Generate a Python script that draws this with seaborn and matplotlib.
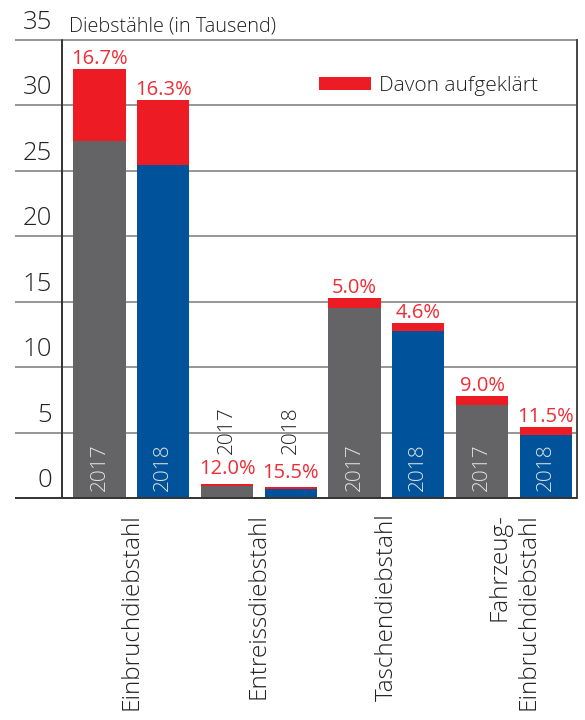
import matplotlib
matplotlib.use("Agg")
import matplotlib.pyplot as plt
from matplotlib.patches import Patch
import seaborn as sns
import pandas as pd

# ---- data ----
categories = ["Einbruchdiebstahl", "Entreissdiebstahl", "Taschendiebstahl",
              "Fahrzeug-\nEinbruchdiebstahl"]
years = ["2017", "2018"]
totals = [32.8, 30.4, 1.1, 0.85, 15.3, 13.4, 7.8, 5.45]          # Diebstähle (in Tausend)
cleared_pct = [16.7, 16.3, 12.0, 15.5, 5.0, 4.6, 9.0, 11.5]       # Davon aufgeklärt (%)
yticks = [0, 5, 10, 15, 20, 25, 30, 35]
title_text = "Diebstähle (in Tausend)"
legend_text = "Davon aufgeklärt"

RED = "#ED1C24"
RED_TXT = "#EE2D36"
GRAY = "#646466"
BLUE = "#00539B"
DARK = "#222222"

rows = []
for i, cat in enumerate(categories):
    for j, yr in enumerate(years):
        k = i * 2 + j
        tot = totals[k]
        rows.append({"key": f"{cat} {yr}", "cat": cat, "year": yr,
                     "total": tot, "pct": cleared_pct[k],
                     "open": tot * (1 - cleared_pct[k] / 100.0)})
df = pd.DataFrame(rows)

sns.set_theme(style="white")
plt.rcParams["font.family"] = ["Open Sans", "DejaVu Sans"]
plt.rcParams["font.weight"] = "light"

fig = plt.figure(figsize=(5.85, 7.2), dpi=100)
L, R, B, T = 62 / 585, 577 / 585, (720 - 498.3) / 720, (720 - 40) / 720
ax = fig.add_axes([L, B, R - L, T - B])

order = list(df["key"])
bar_colors = [GRAY if y == "2017" else BLUE for y in df["year"]]

sns.barplot(data=df, x="key", y="total", hue="key", order=order, hue_order=order,
            palette=[RED] * len(order), width=0.82, saturation=1, errorbar=None,
            legend=False, ax=ax, zorder=3, linewidth=0)
sns.barplot(data=df, x="key", y="open", hue="key", order=order, hue_order=order,
            palette=bar_colors, width=0.82, saturation=1, errorbar=None,
            legend=False, ax=ax, zorder=4, linewidth=0)

ax.set_xlim(-0.588, 7.49)
ax.set_ylim(0, 35)
ax.set_xlabel("")
ax.set_ylabel("")
ax.set_xticks([])
ax.set_yticks([])
for s in ["top", "bottom", "left"]:
    ax.spines[s].set_visible(False)
ax.spines["right"].set_color("#444444")
ax.spines["right"].set_linewidth(1.4)

# grid lines extending into the label area
ytr = ax.get_yaxis_transform()
x_left = (15 - 62) / 515
for v in yticks:
    col = "#333333" if v == 0 else "#8E8E8E"
    lw = 1.4 if v == 0 else 1.3
    ax.plot([x_left, 1], [v, v], transform=ytr, color=col, lw=lw,
            clip_on=False, zorder=5 if v == 0 else 1, solid_capstyle="butt")
    ax.text(-10 / 515, v + 0.86, str(v), transform=ytr, ha="right",
            va="baseline", fontsize=18.5, color=DARK)
# y axis line
ax.plot([0, 0], [0, 35], transform=ytr, color="#333333", lw=1.4, clip_on=False, zorder=6)

ax.text(7 / 515, 35.63, title_text, transform=ytr, ha="left", va="baseline",
        fontsize=14.3, color=DARK)

# labels on bars
for k, r in df.iterrows():
    gap = 0.38 if r["total"] > 2 else 0.72
    ax.text(k, r["total"] + gap, f"{r['pct']:.1f}%", ha="center", va="baseline",
            fontsize=14.5, color=RED_TXT, zorder=7, fontweight="normal")
    if r["total"] > 4:
        ax.text(k, 0.56, r["year"], rotation=90, ha="center", va="bottom",
                fontsize=15, color="#E2E2E2", zorder=7)
    else:
        ax.text(k, 3.38, r["year"], rotation=90, ha="center", va="bottom",
                fontsize=15, color=DARK, zorder=7)

# category labels
xtr = ax.get_xaxis_transform()
for i, cat in enumerate(categories):
    ax.text(i * 2 + 0.5, -0.032, cat, transform=xtr, rotation=90, ha="center",
            va="top", fontsize=17.5, color=DARK, multialignment="right",
            linespacing=1.3)

# legend
handle = Patch(facecolor=RED, edgecolor="none")
leg = ax.legend([handle], [legend_text], loc="center left",
                bbox_to_anchor=((319 - 62) / 515, (498.3 - 86) / 458.3),
                bbox_transform=ax.transAxes, frameon=False, fontsize=15,
                handlelength=2.5, handleheight=0.6, handletextpad=0.4,
                borderpad=0, borderaxespad=0)
for t in leg.get_texts():
    t.set_color(DARK)

fig.savefig("out.png", dpi=100)
